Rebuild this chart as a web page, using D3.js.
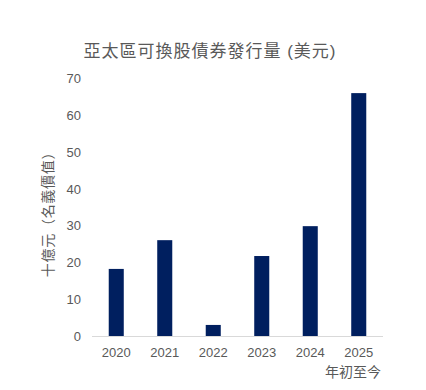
<!DOCTYPE html>
<html>
<head>
<meta charset="utf-8">
<script src="https://cdn.jsdelivr.net/npm/d3@7"></script>
<style>
  body { margin: 0; background: #fff; }
  text { font-family: "Liberation Sans", "Noto Sans CJK TC", sans-serif; fill: #595959; text-spacing-trim: space-all; }
</style>
</head>
<body>
<svg id="chart" width="426" height="390"></svg>
<script>
var years = ["2020", "2021", "2022", "2023", "2024", "2025"];
var issuance = [18.2, 26.0, 3.0, 21.7, 29.8, 65.9];
var yTicks = [0, 10, 20, 30, 40, 50, 60, 70];

var svg = d3.select("#chart");
var plotLeft = 92, plotRight = 383, plotTop = 78, plotBottom = 336;

var x = d3.scaleBand()
    .domain(years)
    .range([plotLeft, plotRight])
    .paddingInner(0.69)
    .paddingOuter(0.345);

var y = d3.scaleLinear()
    .domain([0, 70])
    .range([plotBottom, plotTop]);

// title
svg.append("text")
    .attr("x", 210)
    .attr("y", 57)
    .attr("text-anchor", "middle")
    .style("font-size", "17px")
    .style("letter-spacing", "1px")
    .text("亞太區可換股債券發行量 (美元)");

// bars
svg.selectAll(".bar")
    .data(issuance)
    .enter().append("rect")
    .attr("class", "bar")
    .attr("x", (d, i) => x(years[i]))
    .attr("width", x.bandwidth())
    .attr("y", d => y(d))
    .attr("height", d => y(0) - y(d))
    .attr("fill", "#001f5f");

// baseline
svg.append("line")
    .attr("x1", plotLeft)
    .attr("x2", plotRight)
    .attr("y1", y(0) + 0.5)
    .attr("y2", y(0) + 0.5)
    .attr("stroke", "#d9d9d9")
    .attr("stroke-width", 1);

// y tick labels
svg.selectAll(".ytick")
    .data(yTicks)
    .enter().append("text")
    .attr("class", "ytick")
    .attr("x", 81)
    .attr("y", d => y(d) + 5)
    .attr("text-anchor", "end")
    .style("font-size", "13px")
    .text(d => d);

// x tick labels
svg.selectAll(".xtick")
    .data(years)
    .enter().append("text")
    .attr("class", "xtick")
    .attr("x", d => x(d) + x.bandwidth() / 2)
    .attr("y", 357)
    .attr("text-anchor", "middle")
    .style("font-size", "13px")
    .text(d => d);

// y axis title
svg.append("text")
    .attr("transform", "translate(53,211) rotate(-90)")
    .attr("text-anchor", "middle")
    .style("font-size", "14px")
    .style("letter-spacing", "0.7px")
    .text("十億元（名義價值）");

// note under last category
svg.append("text")
    .attr("x", 381)
    .attr("y", 377)
    .attr("text-anchor", "end")
    .style("font-size", "14px")
    .text("年初至今");
</script>
</body>
</html>
